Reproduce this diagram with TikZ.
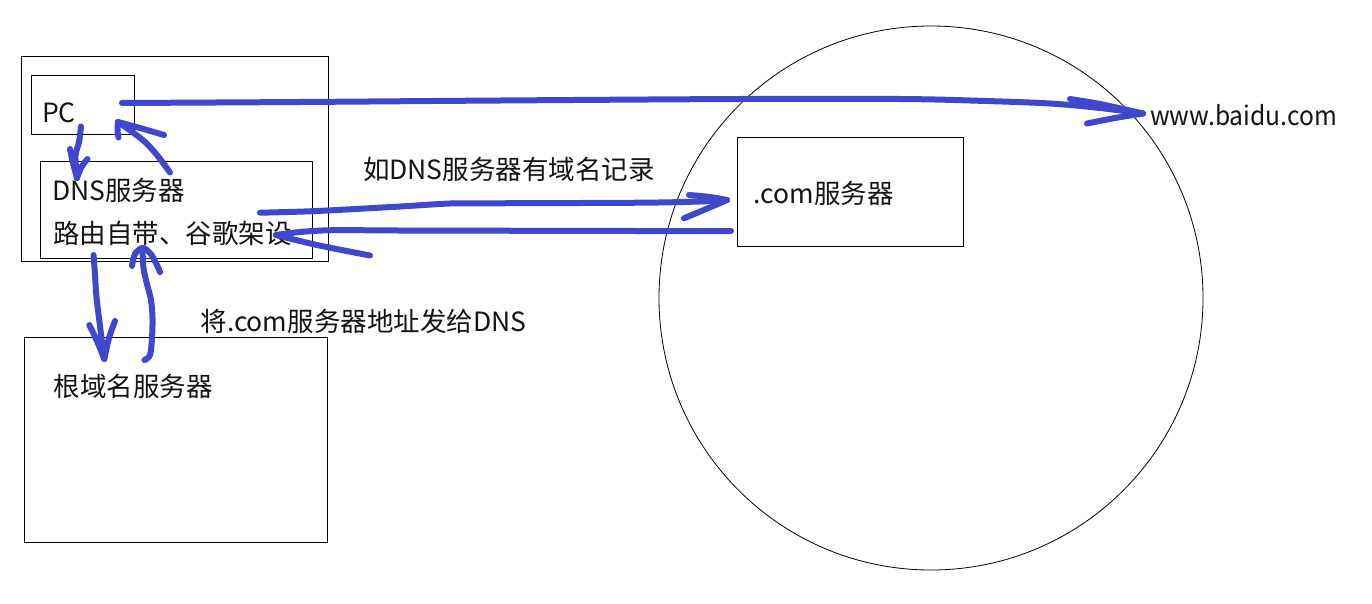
\documentclass[tikz,border=0pt]{standalone}
\usepackage{fontspec}
\newfontfamily\cjk{Noto Sans CJK SC}
\newfontfamily\cjkn[FakeStretch=0.93]{Noto Sans CJK SC}
\definecolor{ink}{HTML}{3F48CC}
\tikzset{
  box/.style={draw=black, line width=1pt, inner sep=0pt, outer sep=0pt},
  lbl/.style={font=\cjk\fontsize{26.5}{30}\selectfont, anchor=base west, inner sep=0pt, outer sep=0pt, text=black!92},
  pen/.style={draw=ink, line width=6pt, line cap=round, line join=round},
}
\begin{document}
\begin{tikzpicture}[x=1pt,y=-1pt]
\useasboundingbox[fill=white] (0,0) rectangle (1372,603);

% boxes
\node[box, minimum width=306.6pt, minimum height=204.7pt] (outer) at (175,158.7) {};
\node[box, minimum width=103pt, minimum height=59pt] (pcbox) at (82.8,104.8) {};
\node[box, minimum width=272pt, minimum height=96.6pt] (dnsbox) at (176.3,210) {};
\node[box, minimum width=303.2pt, minimum height=205pt] (rootbox) at (175.9,439.8) {};
\node[draw=black, line width=0.8pt, circle, minimum size=544pt, inner sep=0pt, outer sep=0pt] (net) at (931,298) {};
\node[box, minimum width=226.5pt, minimum height=109pt] (combox) at (850.25,191.8) {};

% texts
\node[lbl] (pc) at (42,122) {PC};
\node[lbl] (dns) at (52,200.5) {DNS服务器};
\node[lbl] (dns2) at (53,243) {路由自带、谷歌架设};
\node[lbl] (root) at (53.5,396) {根域名服务器};
\node[lbl] (note2) at (200.5,331) {将.com服务器地址发给DNS};
\node[lbl] (note1) at (363,179.5) {如DNS服务器有域名记录};
\node[lbl] (com) at (753.5,203) {.com服务器};
\node[lbl, font=\cjkn\fontsize{26.5}{30}\selectfont] (www) at (1150,125) {www.baidu.com};

% stroke end points
\coordinate (p1s) at (122,103);
\coordinate (p1e) at (1143,113.5);
\coordinate (p2s) at (81,126.5);
\coordinate (p2e) at (77,178);
\coordinate (p3s) at (170,172.5);
\coordinate (p3e) at (118,122);
\coordinate (p4s) at (93.6,255);
\coordinate (p4e) at (104.3,359);
\coordinate (p5s) at (144.5,360);
\coordinate (p5e) at (142.5,248);
\coordinate (p6s) at (260,212.7);
\coordinate (p6e) at (727,200);
\coordinate (p7s) at (731,231);
\coordinate (p7e) at (276,235);

% 1: PC -> www.baidu.com
\draw[pen] plot[smooth, tension=0.55] coordinates {(p1s) (300,102) (500,100.5) (740,99) (900,99) (980,100.8) (1050,103.5) (1100,108) (p1e)};
\draw[pen] plot[smooth, tension=0.55] coordinates {(1070,99) (1100,104) (p1e)};
\draw[pen] plot[smooth, tension=0.55] coordinates {(p1e) (1115,118) (1087,123.5)};

% 2: PC -> DNS
\draw[pen] plot[smooth, tension=0.55] coordinates {(p2s) (79,142) (75.5,156) (p2e)};
\draw[pen] plot[smooth, tension=0.55] coordinates {(70,149) (73,163) (p2e)};
\draw[pen] plot[smooth, tension=0.55] coordinates {(p2e) (81.5,167) (87.5,159)};

% 3: DNS -> PC
\draw[pen] plot[smooth, tension=0.55] coordinates {(p3s) (157,155) (145,142) (131,131) (p3e)};
\draw[pen] plot[smooth, tension=0.55] coordinates {(p3e) (140,128) (164,135)};
\draw[pen] plot[smooth, tension=0.55] coordinates {(p3e) (117.5,130) (118.5,137.5)};

% 4: DNS -> root
\draw[pen] plot[smooth, tension=0.55] coordinates {(p4s) (95,275) (96.5,297) (99.5,322) (102,342) (p4e)};
\draw[pen] plot[smooth, tension=0.55] coordinates {(89.3,325) (97,341) (p4e)};
\draw[pen] plot[smooth, tension=0.55] coordinates {(p4e) (109,338) (115,321)};

% 5: root -> DNS
\draw[pen] plot[smooth, tension=0.55] coordinates {(p5s) (150,355) (152,338) (152.5,318) (151,300) (147,284) (143.5,268) (p5e)};
\draw[pen] plot[smooth, tension=0.55] coordinates {(132,266) (135,254) (p5e) (150,253) (156,263) (160,272)};

% 6: DNS -> .com
\draw[pen] plot[smooth, tension=0.55] coordinates {(p6s) (317,211) (400,206.5) (450,203.5) (490,203.3) (640,202.7) (700,201.5) (p6e)};
\draw[pen] plot[smooth, tension=0.55] coordinates {(689,195) (710,197) (p6e)};
\draw[pen] plot[smooth, tension=0.55] coordinates {(p6e) (705,209.5) (684,218.3)};

% 7: .com -> DNS
\draw[pen] plot[smooth, tension=0.55] coordinates {(p7s) (640,231) (490,230.7) (400,230.5) (333,230.2) (300,232) (p7e)};
\draw[pen] plot[smooth, tension=0.55] coordinates {(p7e) (317,245) (370,255.5)};
\end{tikzpicture}
\end{document}
